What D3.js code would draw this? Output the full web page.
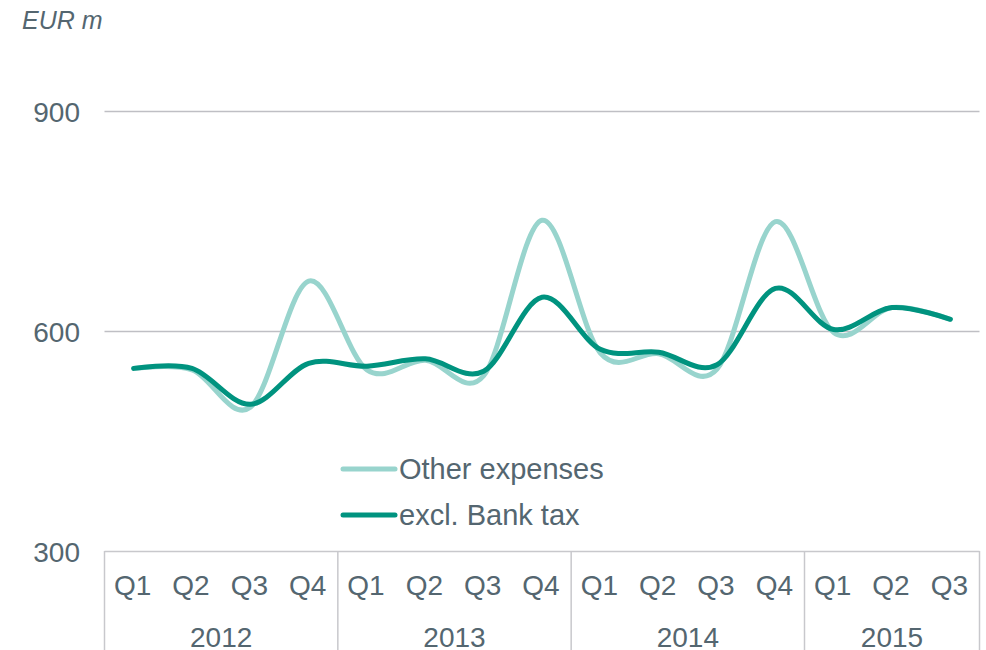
<!DOCTYPE html>
<html><head><meta charset="utf-8">
<script src="https://cdn.jsdelivr.net/npm/d3@7"></script>
<style>
body{margin:0;background:#fff;}
text{font-family:"Liberation Sans",Arial,sans-serif;fill:#546670;}
</style></head>
<body><svg id="c" width="986" height="650"></svg>
<script>
const years = ["2012","2013","2014","2015"];
const quarters = ["Q1","Q2","Q3","Q4","Q1","Q2","Q3","Q4","Q1","Q2","Q3","Q4","Q1","Q2","Q3"];
const yearOf = [0,0,0,0,1,1,1,1,2,2,2,2,3,3,3];
const otherExpenses = [549,547,496,668,547,560,539,751,570,569,548,749,598,632,616];
const exclBankTax  = [549,549,500,556,552,562,545,646,575,571,554,658,602,632,616];
const yTicks = [300,600,900];
const seriesNames = ["Other expenses","excl. Bank tax"];
const colors = ["#98d4cd","#00937f"];

const FS = "28px";
const svg = d3.select("#c");
const left=104.5, right=979.5;
const x = d3.scaleBand().domain(d3.range(quarters.length)).range([left,right]);
const y = d3.scaleLinear().domain([300,900]).range([551,111]);
const cx = i => x(i)+x.bandwidth()/2;

// gridlines
svg.append("g").selectAll("line").data(yTicks.filter(t=>t>300)).join("line")
  .attr("x1",left).attr("x2",right).attr("y1",d=>Math.round(y(d))+0.5).attr("y2",d=>Math.round(y(d))+0.5)
  .attr("stroke","#bfbfc4").attr("stroke-width",1.5);

// y labels
const ya = svg.append("g").attr("transform",`translate(80,0)`)
  .call(d3.axisLeft(y).tickValues(yTicks).tickSize(0).tickPadding(0));
ya.select(".domain").remove();
ya.selectAll("text").style("font-size",FS).style("font-family","Liberation Sans, Arial, sans-serif").attr("fill","#546670").attr("dy","0.36em");

// x axis
svg.append("line").attr("x1",left).attr("x2",right).attr("y1",551.5).attr("y2",551.5).attr("stroke","#c8c8cc").attr("stroke-width",1.5);
const bounds = [0,4,8,12].map(i=>x(i)).concat([right]);
svg.append("g").selectAll("line").data(bounds).join("line")
  .attr("x1",d=>d).attr("x2",d=>d).attr("y1",551).attr("y2",650)
  .attr("stroke","#c8c8cc").attr("stroke-width",1.5);
const xa = svg.append("g").attr("transform","translate(-1,0)")
  .call(d3.axisBottom(x).tickSize(0).tickPadding(0).tickFormat(i=>quarters[i]));
xa.select(".domain").remove();
xa.selectAll("text").style("font-size",FS).style("font-family","Liberation Sans, Arial, sans-serif").attr("fill","#546670").attr("y",595).attr("dy",null);
svg.append("g").selectAll("text").data(years).join("text")
  .attr("x",(d,k)=>{const idx=d3.range(15).filter(i=>yearOf[i]===k);return (x(idx[0])+x(idx[idx.length-1])+x.bandwidth())/2;})
  .attr("y",647).attr("text-anchor","middle").style("font-size",FS).text(d=>d);

// EUR m
svg.append("text").attr("x",22).attr("y",29).style("font-size","25px").style("font-style","italic").text("EUR m");

// lines
const line = d3.line().x((d,i)=>cx(i)).y(d=>y(d)).curve(d3.curveCardinal.tension(0));
[otherExpenses,exclBankTax].forEach((s,k)=>{
  svg.append("path").attr("d",line(s)).attr("fill","none").attr("stroke",colors[k])
    .attr("stroke-width",5).attr("stroke-linecap","round").attr("stroke-linejoin","round");
});

// legend
const lg = svg.append("g");
seriesNames.forEach((n,k)=>{
  const ly = 469 + k*46;
  lg.append("line").attr("x1",343).attr("x2",395).attr("y1",ly).attr("y2",ly)
    .attr("stroke",colors[k]).attr("stroke-width",5).attr("stroke-linecap","round");
  lg.append("text").attr("x",399).attr("y",ly+9.5).style("font-size","29px").text(n);
});
</script></body></html>
